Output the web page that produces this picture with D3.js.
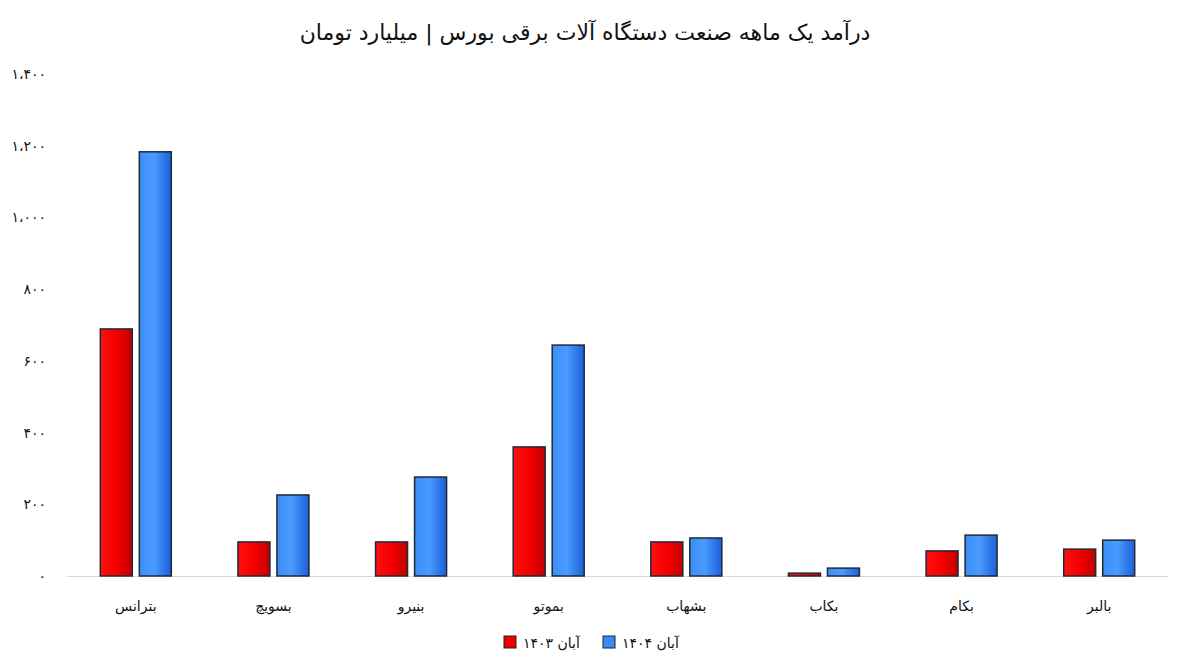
<!DOCTYPE html>
<html><head><meta charset="utf-8">
<script src="https://cdn.jsdelivr.net/npm/d3@7"></script>
<style>body{margin:0;background:#fff}svg{display:block}text{font-family:"DejaVu Sans",sans-serif}</style>
</head><body><svg id="c" width="1181" height="665"></svg>
<script>
const title = "درآمد یک ماهه صنعت دستگاه آلات برقی بورس | میلیارد تومان";
const categories = ["بترانس","بسویچ","بنیرو","بموتو","بشهاب","بکاب","بکام","بالبر"];
const seriesNames = ["آبان ۱۴۰۳","آبان ۱۴۰۴"];
const values1403 = [689, 95, 95, 360, 95, 8, 70, 75];
const values1404 = [1183, 226, 276, 644, 106, 22, 114, 100];
const yTicks = [0,200,400,600,800,1000,1200,1400];
const yTickLabels = ["۰","۲۰۰","۴۰۰","۶۰۰","۸۰۰","۱،۰۰۰","۱،۲۰۰","۱،۴۰۰"];

const svg = d3.select("#c");
const defs = svg.append("defs");
const gR = defs.append("linearGradient").attr("id","gR").attr("x1","0").attr("x2","1").attr("y1","0").attr("y2","0");
gR.append("stop").attr("offset","0").attr("stop-color","#ff1010");
gR.append("stop").attr("offset","0.5").attr("stop-color","#f50000");
gR.append("stop").attr("offset","1").attr("stop-color","#c00000");
const gB = defs.append("linearGradient").attr("id","gB").attr("x1","0").attr("x2","1").attr("y1","0").attr("y2","0");
gB.append("stop").attr("offset","0").attr("stop-color","#3b8ef5");
gB.append("stop").attr("offset","0.45").attr("stop-color","#4a9bff");
gB.append("stop").attr("offset","1").attr("stop-color","#1c5fd8");
const fills = ["url(#gR)","url(#gB)"];
const legendFills = ["#ee0000","#3a8cf5"];

const x0 = d3.scaleBand().domain(categories).range([67,1168]).paddingInner(0.484).paddingOuter(0.242);
const x1 = d3.scaleBand().domain([0,1]).range([0,x0.bandwidth()]).paddingInner(0.18);
const y = d3.scaleLinear().domain([0,1400]).range([576,74]);

// baseline
svg.append("line").attr("x1",67).attr("x2",1168).attr("y1",y(0)+0.5).attr("y2",y(0)+0.5)
  .attr("stroke","#d9d9d9").attr("stroke-width",1);

// y axis labels
const yAxis = d3.axisLeft(y).tickValues(yTicks).tickSize(0).tickPadding(0)
  .tickFormat((d,i)=>yTickLabels[i]);
const ga = svg.append("g").attr("transform","translate(46,0)").call(yAxis);
ga.select(".domain").remove();
ga.selectAll("text").attr("font-size",14).attr("fill","#111").attr("font-family","DejaVu Sans");

// bars
const data = categories.map((c,i)=>({c, v:[values1403[i], values1404[i]]}));
const groups = svg.append("g").selectAll("g").data(data).join("g")
  .attr("transform",d=>`translate(${x0(d.c)},0)`);
groups.selectAll("rect").data(d=>d.v.map((v,k)=>({v,k}))).join("rect")
  .attr("x",d=>x1(d.k)).attr("width",x1.bandwidth())
  .attr("y",d=>y(d.v)).attr("height",d=>y(0)-y(d.v))
  .attr("fill",d=>fills[d.k]).attr("stroke","#1e2a38").attr("stroke-width",1.5);

// category labels
svg.append("g").selectAll("text").data(categories).join("text")
  .attr("x",d=>x0(d)+x0.bandwidth()/2).attr("y",611)
  .attr("text-anchor","middle").attr("font-size",14).attr("fill","#111").text(d=>d);

// title
svg.append("text").attr("x",585).attr("y",40).attr("text-anchor","middle")
  .attr("font-size",22).attr("fill","#111").text(title);

// legend
const leg = [{x:504},{x:603}];
leg.forEach((l,i)=>{
  svg.append("rect").attr("x",l.x).attr("y",636).attr("width",12).attr("height",12)
    .attr("fill",legendFills[i]).attr("stroke","#222").attr("stroke-width",1);
  svg.append("text").attr("x",l.x+19).attr("y",648).attr("font-size",14).attr("fill","#111")
    .attr("direction","rtl").attr("text-anchor","end").text(seriesNames[i]);
});
</script></body></html>
